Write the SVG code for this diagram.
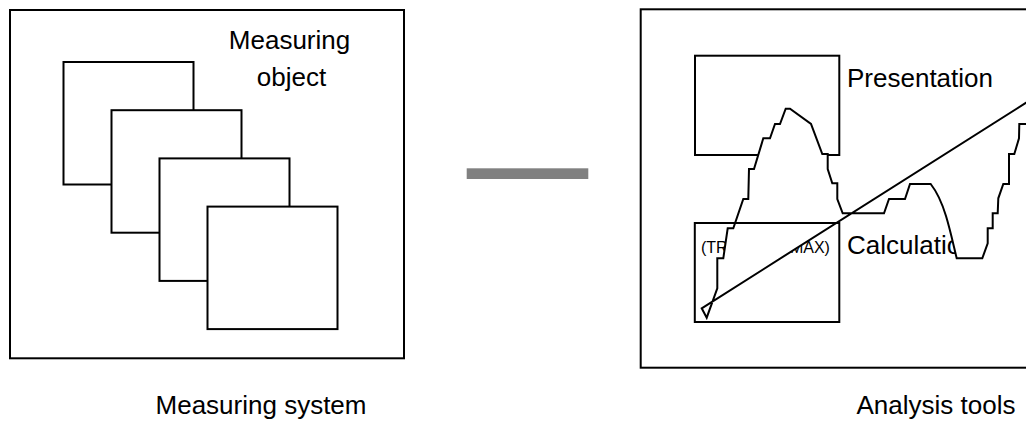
<svg xmlns="http://www.w3.org/2000/svg" width="1026" height="421" viewBox="0 0 1026 421">
  <style>
    .box { fill: #ffffff; stroke: #000000; stroke-width: 2; }
    .open { fill: none; stroke: #000000; stroke-width: 2; }
    .lbl { font-family: "Liberation Sans", Arial, sans-serif; font-size: 26px; fill: #000000; }
    .small { font-family: "Liberation Sans", Arial, sans-serif; font-size: 16px; fill: #000000; }
    .mid { text-anchor: middle; }
    .wave { fill: #ffffff; stroke: #000000; stroke-width: 2; stroke-linejoin: miter; }
  </style>
  <rect width="1026" height="421" fill="#ffffff"/>

  <g id="measuring-system">
    <rect class="box" x="10" y="10" width="394" height="348.3"/>
    <g id="measuring-object">
      <rect class="box" x="63.5" y="62" width="130" height="122.5"/>
      <rect class="box" x="111.5" y="110.2" width="130" height="122.5"/>
      <rect class="box" x="159.5" y="158.4" width="130" height="122.5"/>
      <rect class="box" x="207.5" y="206.6" width="130" height="122.5"/>
      <text class="lbl mid" x="289.5" y="49">Measuring</text>
      <text class="lbl mid" x="291.5" y="86">object</text>
    </g>
    <text class="lbl mid" x="261" y="414">Measuring system</text>
  </g>

  <g id="connectors">
    <rect x="466.7" y="168.3" width="121.6" height="10.7" fill="#808080"/>
  </g>

  <g id="analysis-tools">
    <rect class="box" x="640.7" y="9.3" width="400" height="358.4"/>
    <g id="presentation">
      <rect class="box" x="695" y="55.7" width="144.3" height="99.3"/>
      <text class="lbl" x="847" y="87">Presentation</text>
    </g>
    <g id="calculation">
      <text class="lbl" x="847" y="254">Calculation</text>
      <text class="small" x="701" y="253">(TRMS MIN MAX)</text>
    </g>
    <g id="curve">
      <path class="wave" d="M701.7,308.3 L706.7,317.7 L717.3,288.3 L717.3,258.3 L723.3,258.3 L727.7,228.3 L733.3,228.3 L743.3,199 L748.3,199 L749,169 L754,169 L763.3,138.3 L770,138.3 L775,124 L780,124 L785.7,108.7 L790,108.7 L811,124 L822.3,154 L827.7,154 L827.7,169 L832.3,183.3 L837.3,183.3 L837.3,199 L842.7,213.3 L884,213.3 L889,199 L905,199 L910,184 L930.7,184 C937,192 942,203 946,216 C950,229 953,243 956.7,258.3 L982.3,258.3 L987.7,243.3 L987.7,228.3 L992.7,228.3 L992.7,213.3 L997.7,213.3 L998.3,198.3 L1003.3,184 L1009,184 L1009,154 L1014.3,154 L1019,138.3 L1019.3,124 L1045,124 L1045,90.7 Z"/>
    </g>
    <rect class="open" x="694.8" y="223" width="144.5" height="99"/>
    <text class="lbl mid" x="936" y="414">Analysis tools</text>
  </g>
</svg>
